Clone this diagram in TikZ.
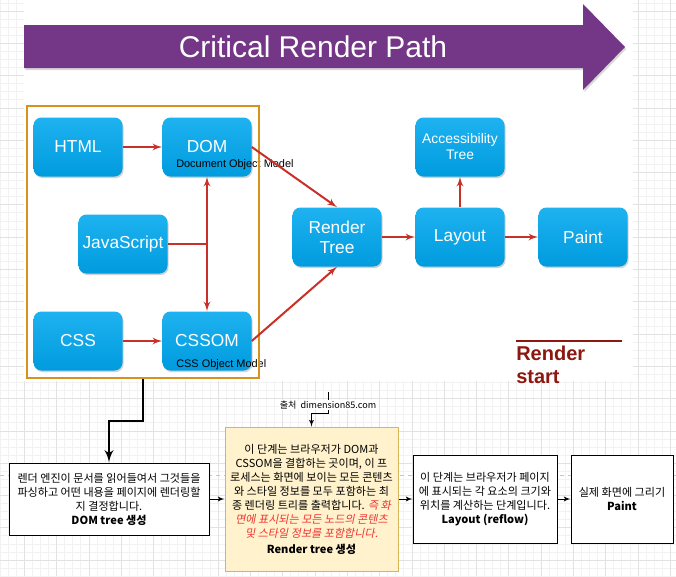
\documentclass[tikz,border=0pt]{standalone}
\usepackage{fontspec}
\setmainfont{Liberation Sans}
\newfontfamily\kr{Noto Sans CJK KR}[AutoFakeSlant=0.2]
\usetikzlibrary{shapes,arrows,fit,calc,positioning,shadows}
\definecolor{boxtop}{RGB}{30,178,240}
\definecolor{boxbot}{RGB}{0,155,222}
\definecolor{pathpurple}{RGB}{116,54,134}
\definecolor{linered}{RGB}{200,48,40}
\definecolor{framegold}{RGB}{214,146,30}
\definecolor{startred}{RGB}{140,24,16}
\definecolor{noteyellow}{RGB}{255,242,204}
\definecolor{notebeige}{RGB}{214,182,86}
\definecolor{notered}{RGB}{238,52,52}
\definecolor{gridminor}{RGB}{242,242,242}
\definecolor{gridmajor}{RGB}{226,226,226}
\tikzstyle{block} = [rectangle, rounded corners=6pt, top color=boxtop, bottom color=boxbot, text=white, align=center, font=\fontsize{13}{15}\selectfont, minimum width=66.75pt, minimum height=44.25pt, inner sep=1pt, drop shadow={opacity=0.35, shadow xshift=0.8pt, shadow yshift=-1.2pt}]
\tikzstyle{tag} = [font=\fontsize{8.2}{9}\selectfont, inner sep=0pt, anchor=west]
\tikzstyle{line} = [draw, linered, line width=1.5pt, -latex']
\tikzstyle{note} = [draw, rectangle, fill=white, line width=0.75pt, align=center, font=\kr\fontsize{8.3}{10.5}\selectfont, inner sep=2pt]
\tikzstyle{link} = [draw, line width=0.75pt, -latex']

\begin{document}
\begin{tikzpicture}[x=0.75pt, y=-0.75pt, node distance=96.75pt]
	\useasboundingbox (0,0) rectangle (676,576);
	% background grid
	\foreach \k in {-3,...,81} \draw[gridminor, line width=0.6pt] ({24.3+\k*8.075},0) -- ({24.3+\k*8.075},576);
	\foreach \k in {-2,...,71} \draw[gridminor, line width=0.6pt] (0,{11+\k*8.075}) -- (676,{11+\k*8.075});
	\foreach \k in {-1,...,20} \draw[gridmajor, line width=0.6pt] ({24.3+\k*32.3},0) -- ({24.3+\k*32.3},576);
	\foreach \k in {-1,...,18} \draw[gridmajor, line width=0.6pt] (0,{11+\k*32.3}) -- (676,{11+\k*32.3});
	\draw[gray!45, line width=0.6pt, dash pattern=on 3pt off 3pt] (0,475) -- (676,475);
	\fill[white] (24,0) rectangle (633,381);

	% critical render path
	\fill[pathpurple, drop shadow={opacity=0.3, shadow xshift=1pt, shadow yshift=-1.5pt}] (24,25) -- (583,25) -- (583,4) -- (625,47) -- (583,90) -- (583,68) -- (24,68) -- cycle;
	\node[text=white, font=\fontsize{22.5}{24}\selectfont] (title) at (313,47) {Critical Render Path};

	\node[block] (html) at (78,147) {HTML};
	\node[block, right of=html] (dom) {DOM};
	\node[block] (js) at (123,244) {JavaScript};
	\node[block] (css) at (78,341) {CSS};
	\node[block, right of=css] (cssom) {CSSOM};
	\node[tag] (domtag) at (176,165) {Document Object Model};
	\node[tag] (cssomtag) at (176,365) {CSS Object Model};
	\node[draw=framegold, line width=1.5pt, fit={(27,106) (259,378)}, inner sep=0pt] (jsgroup) {};

	\node[block] (render) at (337,237) {Render\\Tree};
	\node[block, right of=render, node distance=92.25pt] (layout) {Layout};
	\node[block, right of=layout, node distance=92.25pt] (paint) {Paint};
	\node[block, above of=layout, node distance=67.5pt, font=\fontsize{10.4}{12}\selectfont] (access) {Accessibility\\Tree};

	\node[font=\bfseries\fontsize{15}{17.25}\selectfont, text=startred, align=left, anchor=north west, inner sep=0pt] (rstart) at (516,346) {Render\\start};
	\draw[startred, line width=2.2pt] ($(rstart.north west)+(0,-5)$) -- ++(106,0);

	\path [line] (html) -- (dom);
	\path [line] (css) -- (cssom);
	\draw [linered, line width=1.5pt] (js.east) -- (js.east -| dom.south);
	\path [line, latex'-latex'] (dom.south) -- (cssom.north);
	\path [line] (dom.east) -- (render.north);
	\path [line] (cssom.east) -- (render.south);
	\path [line] (render) -- (layout);
	\path [line] (layout) -- (paint);
	\path [line] (layout) -- (access);

	% steps below
	\node[note, minimum width=150pt, minimum height=54pt] (domstep) at (109,499) {렌더 엔진이 문서를 읽어들여서 그것들을\\파싱하고 어떤 내용을 페이지에 렌더링할\\지 결정합니다.\\\textbf{DOM tree 생성}};
	\node[note, fill=noteyellow, draw=notebeige, minimum width=129.75pt, minimum height=108pt] (treestep) at (311.5,499) {이 단계는 브라우저가 DOM과\\CSSOM을 결합하는 곳이며, 이 프\\로세스는 화면에 보이는 모든 콘텐츠\\와 스타일 정보를 모두 포함하는 최\\종 렌더링 트리를 출력합니다. \textcolor{notered}{\itshape 즉 화}\\\textcolor{notered}{\itshape 면에 표시되는 모든 노드의 콘텐츠}\\\textcolor{notered}{\itshape 및 스타일 정보를 포함합니다.}\\[1.5pt]\textbf{Render tree 생성}};
	\node[note, minimum width=108pt, minimum height=66pt] (layoutstep) at (485,499) {이 단계는 브라우저가 페이지\\에 표시되는 각 요소의 크기와\\위치를 계산하는 단계입니다.\\\textbf{Layout (reflow)}};
	\node[note, minimum width=76.5pt, minimum height=66pt] (paintstep) at (622,499) {실제 화면에 그리기\\\textbf{Paint}};

	\coordinate (tap) at (143,379);
	\coordinate (bend) at (143,421);
	\draw [line width=2.2pt, -latex'] (tap) -- (bend) -| (domstep.north);
	\coordinate (src) at (328,392);
	\coordinate (srcbend) at (328,413);
	\path [link] (src) -- (srcbend) -| (treestep.north);
	\node[fill=white, inner sep=1pt, font=\kr\fontsize{6.8}{8}\selectfont] (source) at (328,405) {출처\ \ dimension85.com};
	\path [link] (domstep) -- (treestep);
	\path [link] (treestep) -- (layoutstep);
	\path [link] (layoutstep) -- (paintstep);
\end{tikzpicture}
\end{document}
